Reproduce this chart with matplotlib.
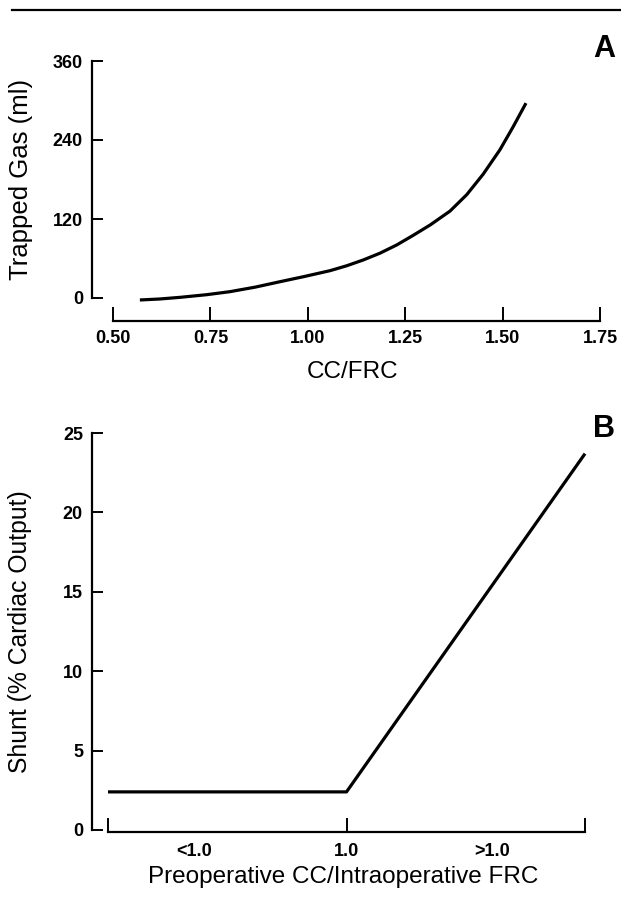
import numpy as np
import matplotlib
matplotlib.use("Agg")
import matplotlib.pyplot as plt
from matplotlib.lines import Line2D

plt.rcParams['font.family'] = ['Liberation Sans', 'DejaVu Sans']

# ── panel A: trapped gas vs CC/FRC ─────────────────────────────────────
cc_frc = [0.569, 0.62, 0.672, 0.74, 0.800, 0.865, 0.929, 0.99, 1.057, 1.10,
          1.142, 1.185, 1.228, 1.27, 1.314, 1.365, 1.408, 1.450, 1.493, 1.527, 1.560]
trapped_gas = [-3, -1.5, 1, 5, 9.6, 16.5, 24.8, 32.5, 41.5, 49,
               57.7, 68, 80.5, 95, 110.9, 132, 157, 188, 225, 260, 296]
a_xticks = [0.50, 0.75, 1.00, 1.25, 1.50, 1.75]
a_yticks = [0, 120, 240, 360]

# ── panel B: shunt vs preop CC / intraop FRC ───────────────────────────
b_x = [0.0, 1.0, 2.0]
shunt = [2.4, 2.4, 23.7]
b_ticks = [0, 1, 2]
b_major_labels = ['', '1.0', '']
b_side_pos = [0.36, 1.61]
b_side_labels = ['<1.0', '>1.0']
b_yticks = [0, 5, 10, 15, 20, 25]

W, H = 621, 899
fig = plt.figure(figsize=(W / 100, H / 100), dpi=100)

lw_axis = 1.6
tick_font = dict(fontsize=13, fontweight='bold')

# top rule
fig.add_artist(Line2D([12 / W, 1.0], [1 - 10 / H, 1 - 10 / H], transform=fig.transFigure,
                      color='black', lw=1.6))

# ── axes A ─────────────────────────────────────────────────────────────
axA = fig.add_axes([92 / W, 1 - 298 / H, 508 / W, 237 / H])
axA.plot(cc_frc, trapped_gas, color='black', lw=2.3, clip_on=False,
         solid_capstyle='butt', solid_joinstyle='round')
axA.set_xlim(0.5 - 21 / 389.6, 1.75)
axA.set_ylim(0, 360)
for s in ['top', 'right']:
    axA.spines[s].set_visible(False)
axA.spines['bottom'].set_position(('outward', 16.5))
axA.spines['bottom'].set_bounds(0.5, 1.75)
axA.spines['left'].set_bounds(0, 360)
for s in ['bottom', 'left']:
    axA.spines[s].set_linewidth(lw_axis)
axA.set_xticks(a_xticks)
axA.set_xticklabels([f'{v:.2f}' for v in a_xticks], **tick_font)
axA.set_yticks(a_yticks)
axA.set_yticklabels([str(v) for v in a_yticks], **tick_font)
axA.tick_params(axis='x', direction='in', length=10, width=1.4, pad=6.5)
axA.tick_params(axis='y', direction='in', length=8, width=1.4, pad=6.5)
axA.set_ylabel('Trapped Gas (ml)', fontsize=18.5)
axA.yaxis.set_label_coords(-0.116, 0.5)
fig.text(353 / W, 1 - 372 / H, 'CC/FRC', fontsize=17.5, ha='center', va='center')
fig.text(604 / W, 1 - 49 / H, 'A', fontsize=22, fontweight='bold', ha='center', va='center')

# ── axes B ─────────────────────────────────────────────────────────────
axB = fig.add_axes([92 / W, 1 - 830 / H, 493 / W, 397 / H])
axB.plot(b_x, shunt, color='black', lw=2.3, clip_on=False, solid_capstyle='butt')
axB.set_xlim(-16 / 238.5, 2.0)
axB.set_ylim(0, 25)
for s in ['top', 'right']:
    axB.spines[s].set_visible(False)
axB.spines['bottom'].set_position(('outward', 1.5))
axB.spines['bottom'].set_bounds(0, 2)
axB.spines['left'].set_bounds(0, 25)
for s in ['bottom', 'left']:
    axB.spines[s].set_linewidth(lw_axis)
axB.set_xticks(b_ticks)
axB.set_xticklabels(b_major_labels, **tick_font)
axB.set_xticks(b_side_pos, minor=True)
axB.set_xticklabels(b_side_labels, minor=True, **tick_font)
axB.tick_params(axis='x', which='major', direction='in', length=10, width=1.4, pad=8)
axB.tick_params(axis='x', which='minor', length=0, pad=8)
axB.set_yticks(b_yticks)
axB.set_yticklabels([str(v) for v in b_yticks], **tick_font)
axB.tick_params(axis='y', direction='in', length=8, width=1.4, pad=6.5)
axB.set_ylabel('Shunt (% Cardiac Output)', fontsize=17.8)
axB.yaxis.set_label_coords(-0.122, 0.5)
fig.text(343 / W, 1 - 877 / H, 'Preoperative CC/Intraoperative FRC', fontsize=17.5,
         ha='center', va='center')
fig.text(604 / W, 1 - 429 / H, 'B', fontsize=22, fontweight='bold', ha='center', va='center')

fig.savefig('out.png', dpi=100)
